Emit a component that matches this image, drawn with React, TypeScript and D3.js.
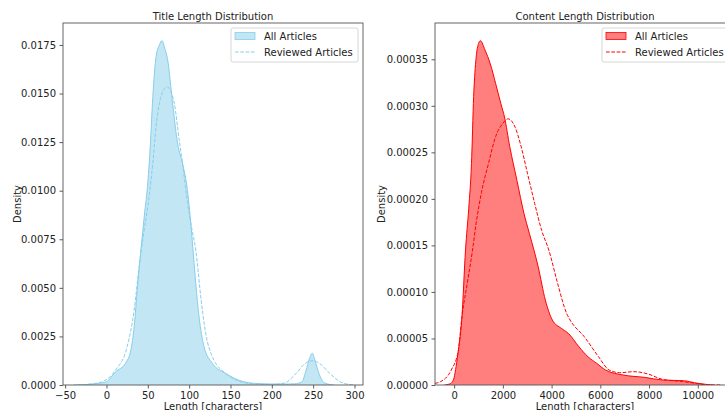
import React, { useEffect, useRef } from "react";
import * as d3 from "d3";

// title length KDE
const titleAllX = [-40, -25, -10, 0, 11, 23, 29.5, 33.5, 37.5, 42, 46, 50, 53, 56, 60, 64, 67.3, 70, 74, 80, 86, 92, 98, 102, 104, 108, 112, 118, 128, 144, 160, 175, 200, 220, 228, 236, 241.6, 245, 249, 252, 255.6, 260, 264, 275];
const titleAllY = [0, 0.00002, 0.00008, 0.00017, 0.00068, 0.00112, 0.0018, 0.003, 0.00506, 0.0071, 0.0088, 0.0104, 0.0123, 0.0148, 0.0169, 0.0175, 0.01772, 0.0174, 0.01673, 0.0145, 0.01244, 0.0114, 0.01, 0.0083, 0.0073, 0.00523, 0.0035, 0.00197, 0.00112, 0.0006, 0.00025, 0.0001, 0.00005, 0.00005, 0.00006, 0.00015, 0.00077, 0.0013, 0.00163, 0.0013, 0.00077, 0.0003, 0.0001, 0];

const titleRevX = [-35, -20, -5, 11, 25, 33.5, 39.5, 45, 50, 56, 60, 64, 68, 73.4, 78, 82, 88, 92, 98, 103, 108, 114.5, 120, 128, 144, 160, 180, 200, 215, 229.5, 240, 249, 258, 270, 286, 300];
const titleRevY = [0, 0.00005, 0.00017, 0.00077, 0.00197, 0.00386, 0.0061, 0.0078, 0.0092, 0.0114, 0.0133, 0.0145, 0.0151, 0.01535, 0.0151, 0.0145, 0.0126, 0.0114, 0.0094, 0.0081, 0.00695, 0.00437, 0.00266, 0.00146, 0.0006, 0.0002, 0.00005, 0.00003, 0.0001, 0.0006, 0.0011, 0.00125, 0.0011, 0.0006, 0.0001, 0];

// content length KDE
const contentAllX = [-400, -200, -118, 0, 80, 175, 320, 466, 600, 712, 800, 903, 1000, 1077, 1266, 1485, 1703, 1921, 2066, 2284, 2576, 2869, 3087, 3450, 3742, 4031, 4397, 4686, 5122, 5489, 5852, 6214, 6943, 7817, 8546, 9419, 10000, 10600];
const contentAllY = [0, 0.000001, 0.000002, 0.000008, 0.00002, 0.0000376, 0.0000733, 0.000145, 0.00019, 0.000238, 0.00031, 0.000352, 0.000367, 0.00037, 0.00036, 0.000345, 0.000324, 0.000302, 0.000288, 0.000256, 0.00022, 0.000184, 0.000163, 0.000127, 0.0000913, 0.0000698, 0.0000609, 0.0000555, 0.0000411, 0.0000304, 0.0000233, 0.0000161, 0.0000107, 0.0000082, 0.0000054, 0.0000046, 0.0000018, 0];

const contentRevX = [-1000, -900, -555, -118, 175, 319, 537, 755, 904, 1122, 1410, 1703, 1996, 2213, 2503, 2721, 3013, 3306, 3594, 3886, 4249, 4616, 4760, 5341, 5926, 6362, 6799, 7380, 7961, 8546, 9419, 10291, 11000];
const contentRevY = [0, 0.000001, 0.0000036, 0.0000161, 0.0000376, 0.0000733, 0.000109, 0.000145, 0.000174, 0.000207, 0.000238, 0.000267, 0.000281, 0.000286, 0.000277, 0.000259, 0.000227, 0.000195, 0.000166, 0.000145, 0.000109, 0.000077, 0.0000698, 0.0000519, 0.0000304, 0.0000161, 0.0000132, 0.0000143, 0.0000118, 0.0000061, 0.0000036, 0.0000005, 0];

const titleXTicks = [-50, 0, 50, 100, 150, 200, 250, 300];
const titleYTicks = [0, 0.0025, 0.005, 0.0075, 0.01, 0.0125, 0.015, 0.0175];
const contentXTicks = [0, 2000, 4000, 6000, 8000, 10000];
const contentYTicks = [0, 0.00005, 0.0001, 0.00015, 0.0002, 0.00025, 0.0003, 0.00035];

const legendLabels = ["All Articles", "Reviewed Articles"];

const FONT = "DejaVu Sans, sans-serif";

const App: React.FC = () => {
  const svgRef = useRef<SVGSVGElement | null>(null);

  useEffect(() => {
    if (!svgRef.current) return;
    const svg = d3.select(svgRef.current);
    svg.selectAll("*").remove();

    const top = 23;
    const bottom = 385;

    const drawPanel = (opts: {
      left: number;
      right: number;
      xDomain: [number, number];
      yDomain: [number, number];
      xTicks: number[];
      yTicks: number[];
      yFmt: (v: number) => string;
      xFmt: (v: number) => string;
      allX: number[];
      allY: number[];
      revX: number[];
      revY: number[];
      color: string;
      title: string;
      legendX: number;
    }) => {
      const x = d3.scaleLinear().domain(opts.xDomain).range([opts.left, opts.right]);
      const y = d3.scaleLinear().domain(opts.yDomain).range([bottom, top]);
      const g = svg.append("g");

      const clipId = "clip" + Math.round(opts.left);
      g.append("clipPath")
        .attr("id", clipId)
        .append("rect")
        .attr("x", opts.left)
        .attr("y", top)
        .attr("width", opts.right - opts.left)
        .attr("height", bottom - top);

      const all = opts.allX.map((v, i) => [v, opts.allY[i]] as [number, number]);
      const rev = opts.revX.map((v, i) => [v, opts.revY[i]] as [number, number]);

      const area = d3
        .area<[number, number]>()
        .x((d) => x(d[0]))
        .y0(y(0))
        .y1((d) => y(d[1]))
        .curve(d3.curveMonotoneX);
      const line = d3
        .line<[number, number]>()
        .x((d) => x(d[0]))
        .y((d) => y(d[1]))
        .curve(d3.curveMonotoneX);

      const plot = g.append("g").attr("clip-path", `url(#${clipId})`);
      plot.append("path").datum(all).attr("d", area).attr("fill", opts.color).attr("fill-opacity", 0.5);
      plot.append("path").datum(all).attr("d", line).attr("fill", "none").attr("stroke", opts.color).attr("stroke-width", 1);
      plot
        .append("path")
        .datum(rev)
        .attr("d", line)
        .attr("fill", "none")
        .attr("stroke", opts.color)
        .attr("stroke-width", 1)
        .attr("stroke-dasharray", "3.7,1.6");

      // axes
      const xAxis = g.append("g").attr("transform", `translate(0,${bottom})`).call(
        d3.axisBottom(x).tickValues(opts.xTicks).tickSize(3.5).tickPadding(3.5).tickFormat((v) => opts.xFmt(+v))
      );
      const yAxis = g.append("g").attr("transform", `translate(${opts.left},0)`).call(
        d3.axisLeft(y).tickValues(opts.yTicks).tickSize(3.5).tickPadding(3.5).tickFormat((v) => opts.yFmt(+v))
      );
      [xAxis, yAxis].forEach((a) => {
        a.select(".domain").remove();
        a.selectAll("line").attr("stroke", "#333").attr("stroke-width", 0.8);
        a.selectAll("text").attr("font-family", FONT).attr("font-size", 10).attr("fill", "#222");
      });

      // spines
      g.append("rect")
        .attr("x", opts.left)
        .attr("y", top)
        .attr("width", opts.right - opts.left)
        .attr("height", bottom - top)
        .attr("fill", "none")
        .attr("stroke", "#555")
        .attr("stroke-width", 0.9);

      g.append("text")
        .attr("x", (opts.left + opts.right) / 2)
        .attr("y", 20)
        .attr("text-anchor", "middle")
        .attr("font-family", FONT)
        .attr("font-size", 10)
        .attr("fill", "#222")
        .text(opts.title);

      g.append("text")
        .attr("x", (opts.left + opts.right) / 2)
        .attr("y", 409.5)
        .attr("text-anchor", "middle")
        .attr("font-family", FONT)
        .attr("font-size", 10)
        .attr("fill", "#222")
        .text("Length [characters]");

      // legend
      const lg = g.append("g").attr("transform", `translate(${opts.legendX},28)`);
      lg.append("rect")
        .attr("width", 127)
        .attr("height", 34)
        .attr("rx", 2)
        .attr("fill", "white")
        .attr("fill-opacity", 0.8)
        .attr("stroke", "#ccc")
        .attr("stroke-width", 0.8);
      lg.append("rect")
        .attr("x", 4)
        .attr("y", 4.5)
        .attr("width", 20)
        .attr("height", 7)
        .attr("fill", opts.color)
        .attr("fill-opacity", 0.5)
        .attr("stroke", opts.color)
        .attr("stroke-width", 0.8);
      lg.append("line")
        .attr("x1", 4)
        .attr("x2", 24)
        .attr("y1", 24)
        .attr("y2", 24)
        .attr("stroke", opts.color)
        .attr("stroke-width", 1)
        .attr("stroke-dasharray", "3.7,1.6");
      legendLabels.forEach((t, i) => {
        lg.append("text")
          .attr("x", 33)
          .attr("y", 11.5 + i * 16)
          .attr("font-family", FONT)
          .attr("font-size", 10)
          .attr("fill", "#222")
          .text(t);
      });
    };

    const minus = (s: string) => s.replace("-", "\u2212");

    drawPanel({
      left: 63,
      right: 363,
      xDomain: [-52.6, 310.3],
      yDomain: [0, 0.01863],
      xTicks: titleXTicks,
      yTicks: titleYTicks,
      yFmt: d3.format(".4f"),
      xFmt: (v) => minus(String(v)),
      allX: titleAllX,
      allY: titleAllY,
      revX: titleRevX,
      revY: titleRevY,
      color: "#87ceeb",
      title: "Title Length Distribution",
      legendX: 231,
    });

    drawPanel({
      left: 435,
      right: 735,
      xDomain: [-786, 11528],
      yDomain: [0, 0.000389],
      xTicks: contentXTicks,
      yTicks: contentYTicks,
      yFmt: d3.format(".5f"),
      xFmt: (v) => String(v),
      allX: contentAllX,
      allY: contentAllY,
      revX: contentRevX,
      revY: contentRevY,
      color: "#ff0000",
      title: "Content Length Distribution",
      legendX: 602,
    });

    [
      { x: 21, label: "Density" },
      { x: 385, label: "Density" },
    ].forEach((d) => {
      svg
        .append("text")
        .attr("transform", `translate(${d.x},${(top + bottom) / 2}) rotate(-90)`)
        .attr("text-anchor", "middle")
        .attr("font-family", FONT)
        .attr("font-size", 10)
        .attr("fill", "#222")
        .text(d.label);
    });
  }, []);

  return (
    <svg
      ref={svgRef}
      width={725}
      height={410}
      style={{ position: "absolute", left: 0, top: 0, background: "white" }}
    />
  );
};

export default App;
